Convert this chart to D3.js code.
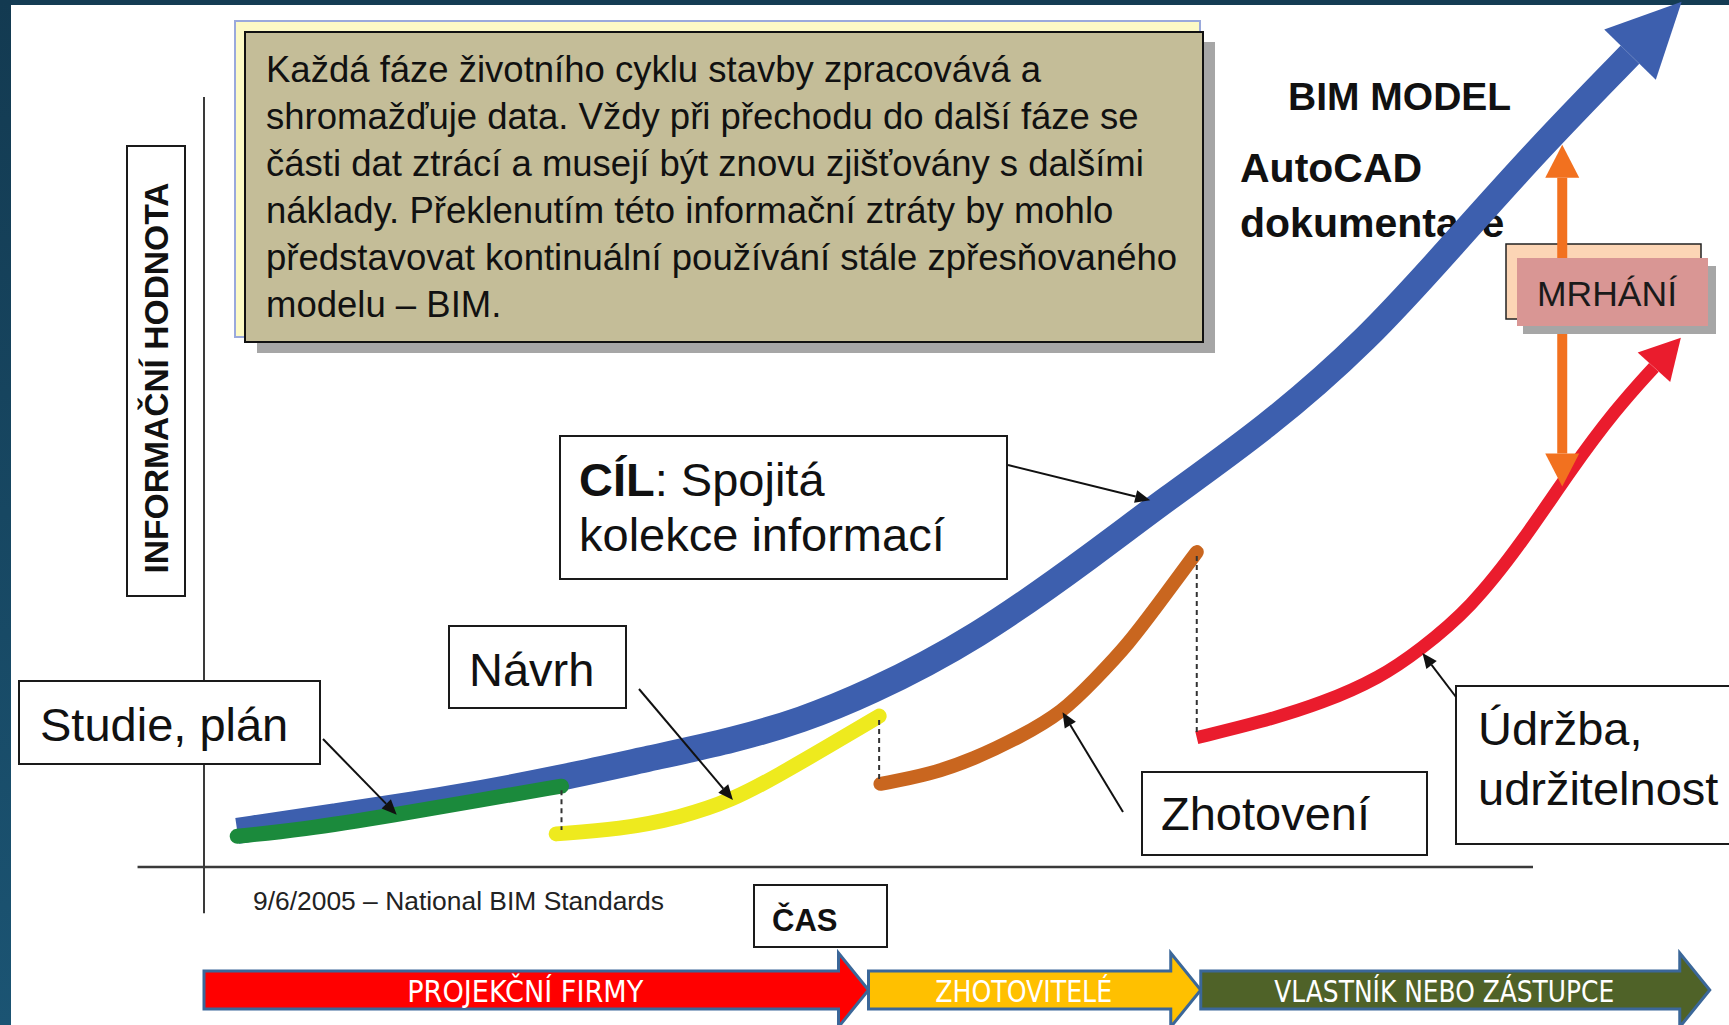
<!DOCTYPE html>
<html lang="cs">

<head>
	<title>Informační hodnota v životním cyklu stavby – BIM</title>
	<meta charset="utf-8">
	<script src="https://d3js.org/d3.v7.min.js"></script>
	<style>
		html,
		body {
			margin: 0;
			padding: 0;
			background: #ffffff;
			overflow: hidden;
		}

		#container svg {
			display: block;
			font-family: "Liberation Sans", Arial, Helvetica, sans-serif;
		}
	</style>
</head>

<body>
	<div id="container"></div>
	<script>
		// Access data (time on x, information value on y, both in axis units 0-100)
		const phases = ["Studie, plán", "Návrh", "Zhotovení", "Údržba,", "udržitelnost"];

		// BIM model: one continuous collection of information
		const bimTime = [2.5, 9.5, 18.5, 27, 33.5, 40, 45, 49.7, 58, 67.4, 72, 80, 87.5, 93.8, 100.3, 107.3];
		const bimValue = [4.7, 6.5, 8.8, 11.6, 14.1, 16.5, 19.1, 22.3, 29.5, 41.2, 47.3, 57.1, 68.4, 80.5, 93.1, 105.5];

		// traditional process, one curve per phase
		const studyTime = [2.5, 7.2, 14.5, 20.8, 26.9];
		const studyValue = [4.0, 4.8, 6.8, 8.7, 10.5];
		const designTime = [26.5, 31.3, 35.8, 39.8, 43.3, 47.1, 50.8];
		const designValue = [4.3, 4.9, 6.4, 8.7, 12.0, 15.8, 19.6];
		const buildTime = [50.9, 54.6, 57.9, 61.4, 64.6, 67.0, 69.5, 72.3, 74.7];
		const buildValue = [10.8, 12.0, 14.0, 16.9, 20.1, 24.3, 28.8, 35.3, 40.9];
		const operateTime = [74.7, 79.5, 84.2, 88.5, 91.5, 95.3, 99.2, 102.8, 106.2, 109.1];
		const operateValue = [16.8, 18.8, 21.3, 24.6, 28.2, 33.6, 42.2, 51.5, 59.4, 64.9];

		// waste between the two approaches
		const wasteTime = 102.2;
		const wasteRange = [49.4, 93.8];

		// who owns the data along the time axis
		const stakeholders = ["PROJEKČNÍ FIRMY", "ZHOTOVITELÉ", "VLASTNÍK NEBO ZÁSTUPCE"];
		const stakeholderBreaks = [0, 50, 75, 113.3];

		// axis lines
		const timeExtent = [-5, 100];
		const valueExtent = [-6, 100];

		const noteLines = [
			"Každá fáze životního cyklu stavby zpracovává a",
			"shromažďuje data. Vždy při přechodu do další fáze se",
			"části dat ztrácí a musejí být znovu zjišťovány s dalšími",
			"náklady. Překlenutím této informační ztráty by mohlo",
			"představovat kontinuální používání stále zpřesňovaného",
			"modelu – BIM."
		];

		// Create chart dimensions
		const width = 1729;
		const height = 1025;
		const plot = { left: 204, right: 1533, top: 97, bottom: 867 };

		const svg = d3.select("#container")
			.append("svg")
			.attr("width", width)
			.attr("height", height)
			.attr("viewBox", `0 0 ${width} ${height}`);

		const defs = svg.append("defs");

		// Create scales
		const x = d3.scaleLinear()
			.domain([0, 100])
			.range([plot.left, plot.right]);

		const y = d3.scaleLinear()
			.domain([0, 100])
			.range([plot.bottom, plot.top]);

		const zip = (ts, vs) => ts.map((t, i) => [t, vs[i]]);

		const curves = [
			{ key: "bim", points: zip(bimTime, bimValue), color: "#3d5fae", width: 26, cap: "butt", head: [74, 36] },
			{ key: "study", points: zip(studyTime, studyValue), color: "#1b8a3c", width: 15, cap: "round" },
			{ key: "design", points: zip(designTime, designValue), color: "#eeea1e", width: 15, cap: "round" },
			{ key: "build", points: zip(buildTime, buildValue), color: "#c9661f", width: 14, cap: "round" },
			{ key: "operate", points: zip(operateTime, operateValue), color: "#ea1c2d", width: 13, cap: "butt", head: [40, 22] }
		];
		const byKey = Object.fromEntries(curves.map(c => [c.key, c]));

		function arrowMarker(id, len, half, color) {
			defs.append("marker")
				.attr("id", id)
				.attr("markerUnits", "userSpaceOnUse")
				.attr("markerWidth", len)
				.attr("markerHeight", half * 2)
				.attr("refX", 0)
				.attr("refY", half)
				.attr("orient", "auto-start-reverse")
				.style("overflow", "visible")
				.append("path")
				.attr("d", `M0,0L${len},${half}L0,${half * 2}Z`)
				.attr("fill", color);
		}

		curves.filter(c => c.head).forEach(c => arrowMarker(`head-${c.key}`, c.head[0], c.head[1], c.color));
		arrowMarker("head-waste", 33, 17, "#f2711f");
		arrowMarker("head-leader", 15, 6.5, "#111111");

		// Frame
		const frameGrad = defs.append("linearGradient")
			.attr("id", "frame")
			.attr("x1", 0).attr("y1", 0)
			.attr("x2", 0).attr("y2", 1);
		frameGrad.append("stop").attr("offset", "0%").attr("stop-color", "#133a51");
		frameGrad.append("stop").attr("offset", "100%").attr("stop-color", "#1b5473");

		svg.append("rect")
			.attr("x", 0).attr("y", 0)
			.attr("width", width).attr("height", 5)
			.attr("fill", "#143c54");
		svg.append("rect")
			.attr("x", 0).attr("y", 0)
			.attr("width", 11).attr("height", height)
			.attr("fill", "url(#frame)");

		// Note box
		const note = svg.append("g").attr("class", "note");
		note.append("rect")
			.attr("x", 235).attr("y", 21)
			.attr("width", 965).attr("height", 316)
			.attr("fill", "#fcf9c6")
			.attr("stroke", "#9aa9dc")
			.attr("stroke-width", 2);
		note.append("rect")
			.attr("x", 257).attr("y", 42)
			.attr("width", 958).attr("height", 311)
			.attr("fill", "#a6a6a6");
		note.append("rect")
			.attr("x", 245).attr("y", 32)
			.attr("width", 958).attr("height", 310)
			.attr("fill", "#c4bd98")
			.attr("stroke", "#111111")
			.attr("stroke-width", 2);
		note.selectAll(".note-line")
			.data(noteLines)
			.enter().append("text")
			.attr("class", "note-line")
			.attr("x", 266)
			.attr("y", (d, i) => 82 + i * 47)
			.style("font-size", "36.5px")
			.style("fill", "#111111")
			.text(d => d);

		// Draw peripherals
		svg.append("line")
			.attr("class", "x-axis")
			.attr("x1", x(timeExtent[0])).attr("x2", x(timeExtent[1]))
			.attr("y1", y(0)).attr("y2", y(0))
			.attr("stroke", "#3a3a3a")
			.attr("stroke-width", 2.5);
		svg.append("line")
			.attr("class", "y-axis")
			.attr("x1", x(0)).attr("x2", x(0))
			.attr("y1", y(valueExtent[0])).attr("y2", y(valueExtent[1]))
			.attr("stroke", "#3a3a3a")
			.attr("stroke-width", 2);

		svg.append("rect")
			.attr("x", 127).attr("y", 146)
			.attr("width", 58).attr("height", 450)
			.attr("fill", "#ffffff")
			.attr("stroke", "#1a1a1a")
			.attr("stroke-width", 2);
		svg.append("text")
			.attr("transform", "translate(168, 378) rotate(-90)")
			.attr("text-anchor", "middle")
			.attr("textLength", 391)
			.attr("lengthAdjust", "spacingAndGlyphs")
			.style("font-size", "33.5px")
			.style("font-weight", "bold")
			.style("fill", "#111111")
			.text("INFORMAČNÍ HODNOTA");

		// BIM / AutoCAD labels sit under the blue arrow
		const boldLabels = [
			{ text: "BIM MODEL", x: 1288, y: 110, size: 39 },
			{ text: "AutoCAD", x: 1240, y: 182, size: 41 },
			{ text: "dokumentace", x: 1240, y: 237, size: 41 }
		];
		svg.selectAll(".bold-label")
			.data(boldLabels)
			.enter().append("text")
			.attr("class", "bold-label")
			.attr("x", d => d.x)
			.attr("y", d => d.y)
			.style("font-size", d => `${d.size}px`)
			.style("font-weight", "bold")
			.style("fill", "#111111")
			.text(d => d.text);

		// Draw data
		const line = d3.line()
			.curve(d3.curveBasis)
			.x(d => x(d[0]))
			.y(d => y(d[1]));

		svg.selectAll(".curve")
			.data(curves)
			.enter().append("path")
			.attr("class", "curve")
			.attr("d", d => line(d.points))
			.attr("fill", "none")
			.attr("stroke", d => d.color)
			.attr("stroke-width", d => d.width)
			.attr("stroke-linecap", d => d.cap)
			.attr("stroke-linejoin", "round")
			.attr("marker-end", d => d.head ? `url(#head-${d.key})` : null);

		// hand-over gaps between phases
		const handovers = d3.pairs(curves.slice(1));
		svg.selectAll(".handover")
			.data(handovers)
			.enter().append("line")
			.attr("class", "handover")
			.attr("x1", d => x(d[0].points[d[0].points.length - 1][0]))
			.attr("x2", d => x(d[0].points[d[0].points.length - 1][0]))
			.attr("y1", d => y(d[0].points[d[0].points.length - 1][1]) + 4)
			.attr("y2", d => y(d[1].points[0][1]) - 4)
			.attr("stroke", "#333333")
			.attr("stroke-width", 2)
			.attr("stroke-dasharray", "5,4");

		// Waste
		const waste = svg.append("g").attr("class", "waste");
		waste.append("rect")
			.attr("x", 1506).attr("y", 244)
			.attr("width", 195).attr("height", 75)
			.attr("fill", "#fcd5b5")
			.attr("stroke", "#222222")
			.attr("stroke-width", 1.5);
		waste.append("line")
			.attr("x1", x(wasteTime)).attr("x2", x(wasteTime))
			.attr("y1", y(wasteRange[0]) - 33)
			.attr("y2", y(wasteRange[1]) + 33)
			.attr("stroke", "#f2711f")
			.attr("stroke-width", 10)
			.attr("marker-start", "url(#head-waste)")
			.attr("marker-end", "url(#head-waste)");
		waste.append("rect")
			.attr("x", 1523).attr("y", 266)
			.attr("width", 193).attr("height", 68)
			.attr("fill", "#a6a6a6");
		waste.append("rect")
			.attr("x", 1517).attr("y", 258)
			.attr("width", 191).attr("height", 68)
			.attr("fill", "#d99694");
		waste.append("text")
			.attr("x", 1607).attr("y", 306)
			.attr("text-anchor", "middle")
			.style("font-size", "35.5px")
			.style("fill", "#1a1a1a")
			.text("MRHÁNÍ");

		// Add labels
		const callouts = [
			{ lines: [[phases[0], false]], box: [19, 681, 301, 83], tx: 40, ty: [741], from: [323, 739], target: ["study", 2], gap: 0 },
			{ lines: [[phases[1], false]], box: [449, 626, 177, 82], tx: 469, ty: [686], from: [639, 689], target: ["design", 3], gap: 0 },
			{ lines: [[phases[2], false]], box: [1142, 772, 285, 83], tx: 1161, ty: [830], from: [1123, 812], target: ["build", 4], gap: 0 },
			{ lines: [[phases[3], false], [phases[4], false]], box: [1456, 686, 300, 158], tx: 1478, ty: [745, 805], from: [1456, 697], target: ["operate", 4], gap: 4 },
			{ lines: [["CÍL", true, ": Spojitá"], ["kolekce informací", false]], box: [560, 436, 447, 143], tx: 579, ty: [496, 551], from: [1008, 465], target: ["bim", 10], gap: 11 }
		];

		const callout = svg.selectAll(".callout")
			.data(callouts)
			.enter().append("g")
			.attr("class", "callout");

		callout.append("rect")
			.attr("x", d => d.box[0]).attr("y", d => d.box[1])
			.attr("width", d => d.box[2]).attr("height", d => d.box[3])
			.attr("fill", "#ffffff")
			.attr("stroke", "#1a1a1a")
			.attr("stroke-width", 2);

		callout.each(function (d) {
			const g = d3.select(this);
			d.lines.forEach((ln, i) => {
				const t = g.append("text")
					.attr("x", d.tx)
					.attr("y", d.ty[i])
					.style("font-size", "47px")
					.style("fill", "#111111");
				t.append("tspan").style("font-weight", ln[1] ? "bold" : "normal").text(ln[0]);
				if (ln[2]) t.append("tspan").text(ln[2]);
			});

			// leader arrow pointing at the curve
			const p = byKey[d.target[0]].points[d.target[1]];
			const tx = x(p[0]), ty = y(p[1]);
			const dx = tx - d.from[0], dy = ty - d.from[1];
			const len = Math.hypot(dx, dy);
			const end = len - d.gap - 15;
			g.append("line")
				.attr("x1", d.from[0]).attr("y1", d.from[1])
				.attr("x2", d.from[0] + dx / len * end)
				.attr("y2", d.from[1] + dy / len * end)
				.attr("stroke", "#111111")
				.attr("stroke-width", 2)
				.attr("marker-end", "url(#head-leader)");
		});

		// Source and time axis label
		svg.append("text")
			.attr("x", 253).attr("y", 910)
			.attr("textLength", 411)
			.attr("lengthAdjust", "spacingAndGlyphs")
			.style("font-size", "26px")
			.style("fill", "#222222")
			.text("9/6/2005 – National BIM Standards");

		svg.append("rect")
			.attr("x", 754).attr("y", 885)
			.attr("width", 133).attr("height", 62)
			.attr("fill", "#ffffff")
			.attr("stroke", "#1a1a1a")
			.attr("stroke-width", 2);
		svg.append("text")
			.attr("x", 772).attr("y", 931)
			.style("font-size", "31px")
			.style("font-weight", "bold")
			.style("fill", "#111111")
			.text("ČAS");

		// Stakeholder arrows along the time axis
		const bandColors = ["#ff0000", "#ffc000", "#4f6228"];
		const bandTextWidth = [236, 177, 340];
		const bandMid = 990, bodyHalf = 19, headHalf = 37, headLen = 30;

		const bands = stakeholders.map((name, i) => ({
			name,
			x0: x(stakeholderBreaks[i]),
			x1: x(stakeholderBreaks[i + 1]),
			color: bandColors[i],
			textWidth: bandTextWidth[i]
		}));

		const band = svg.selectAll(".band")
			.data(bands)
			.enter().append("g")
			.attr("class", "band");

		band.append("path")
			.attr("d", d => {
				const neck = d.x1 - headLen;
				return `M${d.x0},${bandMid - bodyHalf}L${neck},${bandMid - bodyHalf}L${neck},${bandMid - headHalf}` +
					`L${d.x1},${bandMid}L${neck},${bandMid + headHalf}L${neck},${bandMid + bodyHalf}L${d.x0},${bandMid + bodyHalf}Z`;
			})
			.attr("fill", d => d.color)
			.attr("stroke", "#3b6799")
			.attr("stroke-width", 3)
			.attr("stroke-linejoin", "miter");

		band.append("text")
			.attr("x", d => (d.x0 + d.x1 - headLen) / 2 + 4)
			.attr("y", bandMid + 12)
			.attr("text-anchor", "middle")
			.attr("textLength", d => d.textWidth)
			.attr("lengthAdjust", "spacingAndGlyphs")
			.style("font-family", "'Liberation Sans Narrow', 'DejaVu Sans Condensed', sans-serif")
			.style("font-size", "30px")
			.style("fill", "#ffffff")
			.text(d => d.name);
	</script>
</body>

</html>
